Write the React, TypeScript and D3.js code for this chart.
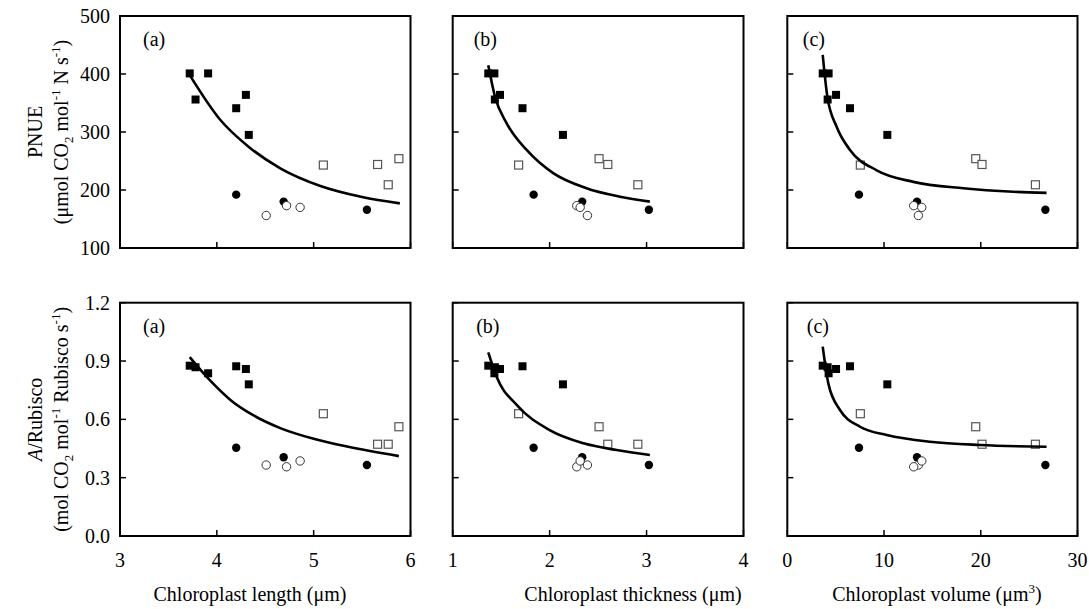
import React from "react";
import * as d3 from "d3";

// ---- data (one entry per species) ----
const groupOf = ["fs", "fs", "fs", "fs", "fs", "fs", "os", "os", "os", "os", "fc", "fc", "fc", "oc", "oc", "oc"];
const chlLength = [3.72, 3.78, 3.91, 4.2, 4.3, 4.33, 5.1, 5.88, 5.66, 5.77, 4.2, 4.69, 5.55, 4.51, 4.72, 4.86];
const chlThickness = [1.367, 1.435, 1.43, 1.72, 1.488, 2.137, 1.68, 2.51, 2.6, 2.91, 1.835, 2.336, 3.024, 2.39, 2.28, 2.315];
const chlVolume = [3.66, 4.17, 4.27, 6.48, 5.04, 10.34, 7.55, 19.48, 20.13, 25.65, 7.41, 13.41, 26.68, 13.55, 13.07, 13.9];
const pnue = [401, 356, 401, 341, 364, 295, 243, 254, 244, 209, 192, 180, 166, 156, 173, 170];
const aRubisco = [0.876, 0.868, 0.837, 0.873, 0.859, 0.78, 0.629, 0.562, 0.472, 0.472, 0.454, 0.405, 0.365, 0.365, 0.356, 0.386];

// fitted curves
const fitLenPnueX = [3.72, 4.03, 4.34, 4.66, 5.07, 5.5, 5.89];
const fitLenPnueY = [398, 322, 273, 237, 207, 188, 177];
const fitThkPnueX = [1.367, 1.436, 1.557, 1.763, 2.037, 2.38, 2.725, 3.034];
const fitThkPnueY = [415, 361, 315, 269, 229, 203, 188.5, 180];
const fitVolPnueX = [3.66, 4.14, 5.1, 6.48, 9.24, 13.03, 18.2, 23.37, 26.8];
const fitVolPnueY = [433, 361, 309, 269, 234, 214, 203, 197, 195];
const fitLenArX = [3.72, 3.93, 4.14, 4.38, 4.655, 5.0, 5.345, 5.88];
const fitLenArY = [0.92, 0.8, 0.7, 0.62, 0.555, 0.5, 0.46, 0.411];
const fitThkArX = [1.367, 1.453, 1.66, 2.0, 2.35, 2.69, 3.034];
const fitThkArY = [0.945, 0.819, 0.674, 0.545, 0.477, 0.442, 0.417];
const fitVolArX = [3.66, 4.24, 5.45, 7.52, 10.28, 14.76, 19.93, 26.8];
const fitVolArY = [0.974, 0.785, 0.648, 0.562, 0.52, 0.485, 0.468, 0.459];

// axes
const xDomains = [[3, 6], [1, 4], [0, 30]];
const xTicks = [[3, 4, 5, 6], [1, 2, 3, 4], [0, 10, 20, 30]];
const yDomains = [[100, 500], [0, 1.2]];
const yTicks = [[100, 200, 300, 400, 500], [0, 0.3, 0.6, 0.9, 1.2]];
const yTickFormats = ["d", ".1f"];
const panelLabels = [["(a)", "(b)", "(c)"], ["(a)", "(b)", "(c)"]];
const xTitles = ["Chloroplast length (\u03bcm)", "Chloroplast thickness (\u03bcm)", "Chloroplast volume (\u03bcm"];

// ---- layout ----
const W = 1089;
const H = 609;
const colX = [[120, 410.5], [452.7, 743.5], [787.3, 1077.5]];
const rowY = [[16, 248], [302.7, 536]];
const labelDx = [[23, 21, 15.5], [23, 23.5, 19.5]];
const xTitleCenter = [250, 633, 937];
const FONT = "'Liberation Serif', 'Times New Roman', Times, serif";
const FS = 20;
const SFS = 13;

const xCols = [chlLength, chlThickness, chlVolume];
const yRows = [pnue, aRubisco];
const fits = [
  [[fitLenPnueX, fitLenPnueY], [fitThkPnueX, fitThkPnueY], [fitVolPnueX, fitVolPnueY]],
  [[fitLenArX, fitLenArY], [fitThkArX, fitThkArY], [fitVolArX, fitVolArY]],
];

function Panel({ row, col }: { row: number; col: number }) {
  const [x0, x1] = colX[col];
  const [y0, y1] = rowY[row];
  const xs = d3.scaleLinear().domain(xDomains[col]).range([x0, x1]);
  const ys = d3.scaleLinear().domain(yDomains[row]).range([y1, y0]);
  const xv = xCols[col];
  const yv = yRows[row];
  const [fx, fy] = fits[row][col];
  const line = d3
    .line<number>()
    .x((_, i) => xs(fx[i]))
    .y((_, i) => ys(fy[i]))
    .curve(d3.curveMonotoneX);
  const fmt = d3.format(yTickFormats[row]);
  const idx = d3.range(xv.length);
  const order = ["fs", "os", "fc", "oc"];
  const half = 4;
  return (
    <g>
      {/* ticks inward */}
      {xTicks[col].map((t) => (
        <line key={"xt" + t} x1={xs(t)} x2={xs(t)} y1={y1} y2={y1 - 6} stroke="#000" strokeWidth={1.5} />
      ))}
      {yTicks[row].map((t) => (
        <line key={"yt" + t} x1={x0} x2={x0 + 6} y1={ys(t)} y2={ys(t)} stroke="#000" strokeWidth={1.5} />
      ))}
      {/* tick labels */}
      {col === 0 &&
        yTicks[row].map((t) => (
          <text key={"yl" + t} x={x0 - 10} y={ys(t)} dy="0.35em" textAnchor="end" fontSize={FS} fontFamily={FONT}>
            {fmt(t)}
          </text>
        ))}
      {row === 1 &&
        xTicks[col].map((t) => (
          <text key={"xl" + t} x={xs(t)} y={y1 + 31} textAnchor="middle" fontSize={FS} fontFamily={FONT}>
            {t}
          </text>
        ))}
      {/* points */}
      {order.map((g) =>
        idx
          .filter((i) => groupOf[i] === g)
          .map((i) => {
            const cx = xs(xv[i]);
            const cy = ys(yv[i]);
            if (g === "fs")
              return <rect key={g + i} x={cx - half} y={cy - half} width={half * 2} height={half * 2} fill="#000" />;
            if (g === "os")
              return (
                <rect key={g + i} x={cx - half} y={cy - half} width={half * 2} height={half * 2} fill="#fff" stroke="#555" strokeWidth={1.2} />
              );
            if (g === "fc") return <circle key={g + i} cx={cx} cy={cy} r={4.2} fill="#000" />;
            return <circle key={g + i} cx={cx} cy={cy} r={4.2} fill="#fff" stroke="#333" strokeWidth={1} />;
          })
      )}
      {/* fit curve */}
      <path d={line(fx) || ""} fill="none" stroke="#000" strokeWidth={2.6} />
      {/* frame */}
      <rect x={x0} y={y0} width={x1 - x0} height={y1 - y0} fill="none" stroke="#000" strokeWidth={2} />
      <text x={x0 + labelDx[row][col]} y={y0 + 30} fontSize={FS} fontFamily={FONT}>
        {panelLabels[row][col]}
      </text>
    </g>
  );
}

export default function App() {
  const topMid = (rowY[0][0] + rowY[0][1]) / 2;
  const botMid = (rowY[1][0] + rowY[1][1]) / 2;
  return (
    <svg width={W} height={H} style={{ position: "absolute", left: 0, top: 0, background: "#fff" }}>
      <rect width={W} height={H} fill="#fff" />
      {[0, 1].map((r) => [0, 1, 2].map((c) => <Panel key={r + "-" + c} row={r} col={c} />))}
      {/* y titles */}
      <text transform={`translate(35,${topMid}) rotate(-90)`} textAnchor="middle" dy="0.35em" fontSize={FS} fontFamily={FONT}>
        PNUE
      </text>
      <text transform={`translate(61,${topMid}) rotate(-90)`} textAnchor="middle" dy="0.35em" fontSize={FS} fontFamily={FONT}>
        <tspan>({"\u03bc"}mol CO</tspan>
        <tspan fontSize={SFS} dy="5">2</tspan>
        <tspan dy="-5"> mol</tspan>
        <tspan fontSize={SFS} dy="-8">-1</tspan>
        <tspan dy="8"> N s</tspan>
        <tspan fontSize={SFS} dy="-8">-1</tspan>
        <tspan dy="8">)</tspan>
      </text>
      <text transform={`translate(35,${botMid}) rotate(-90)`} textAnchor="middle" dy="0.35em" fontSize={FS} fontFamily={FONT}>
        <tspan fontStyle="italic">A</tspan>
        <tspan>/Rubisco</tspan>
      </text>
      <text transform={`translate(61,${botMid}) rotate(-90)`} textAnchor="middle" dy="0.35em" fontSize={FS} fontFamily={FONT}>
        <tspan>(mol CO</tspan>
        <tspan fontSize={SFS} dy="5">2</tspan>
        <tspan dy="-5"> mol</tspan>
        <tspan fontSize={SFS} dy="-8">-1</tspan>
        <tspan dy="8"> Rubisco s</tspan>
        <tspan fontSize={SFS} dy="-8">-1</tspan>
        <tspan dy="8">)</tspan>
      </text>
      {/* x titles */}
      {xTitles.map((t, i) => (
        <text key={"xtitle" + i} x={xTitleCenter[i]} y={601} textAnchor="middle" fontSize={FS} fontFamily={FONT}>
          {i === 2 ? (
            <>
              <tspan>{t}</tspan>
              <tspan fontSize={SFS} dy="-8">3</tspan>
              <tspan dy="8">)</tspan>
            </>
          ) : (
            t
          )}
        </text>
      ))}
    </svg>
  );
}
